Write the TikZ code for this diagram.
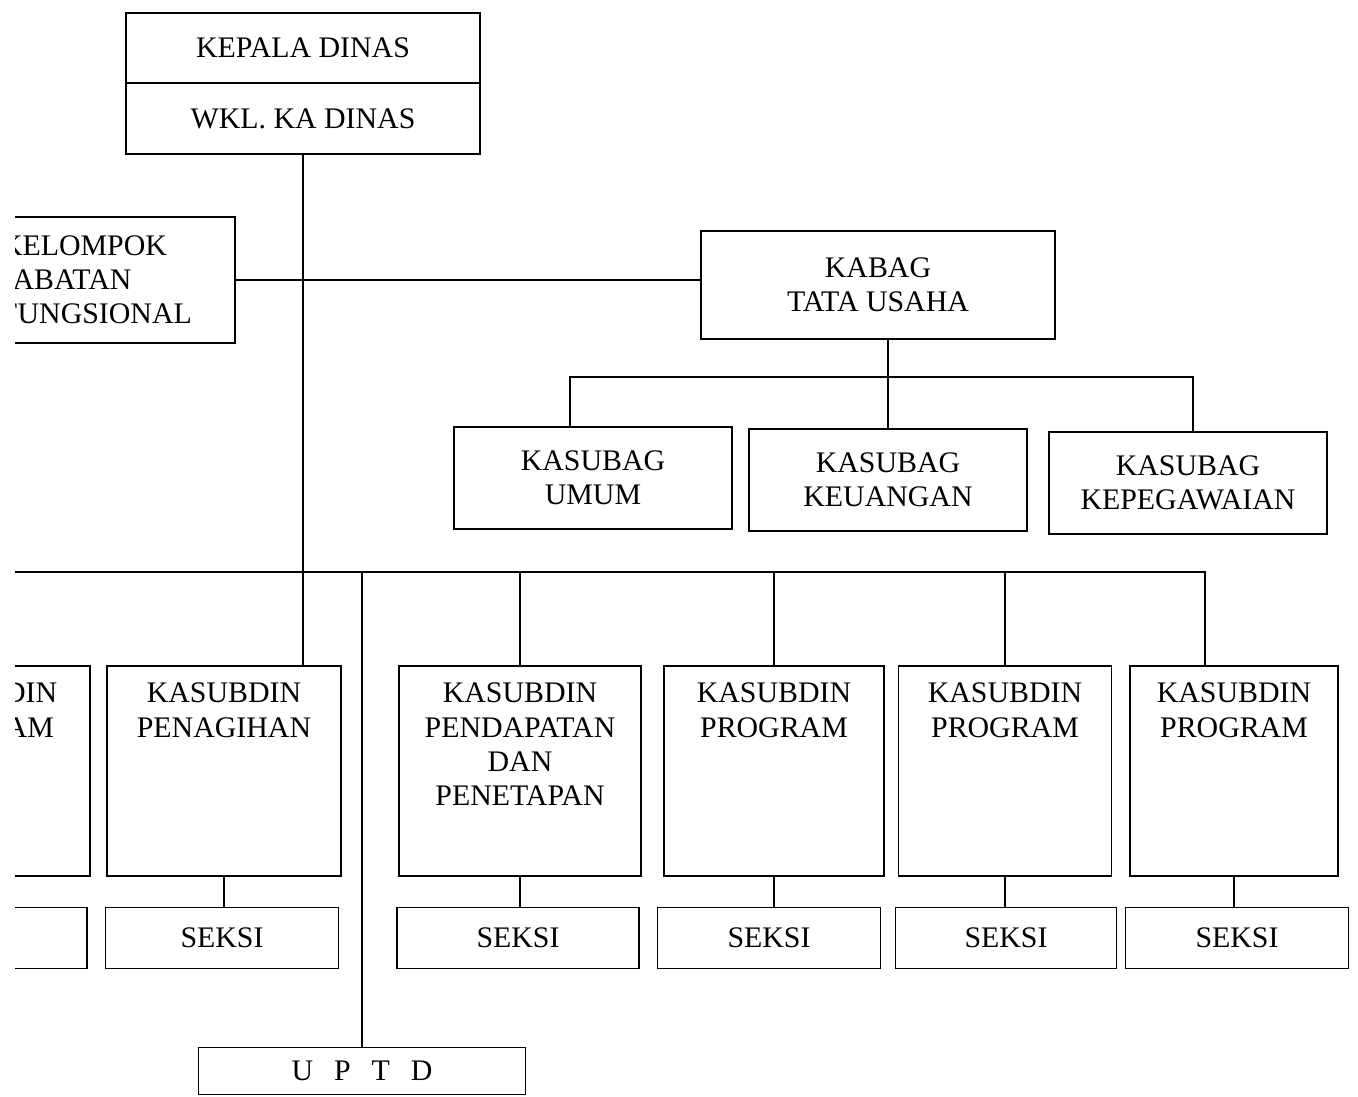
\documentclass[tikz,border=0pt]{standalone}
\usepackage{fontspec}
\setmainfont{Liberation Serif}
\usetikzlibrary{positioning}
\newcommand\toplines[1]{\begin{tabular}[t]{@{}c@{}}#1\end{tabular}}
\tikzset{
    box/.style ={draw, align=center, inner sep=0pt, font=\fontsize{17}{19.5}\selectfont},
    sub/.style ={box, anchor=north, inner ysep=0.34cm, text height=0.4cm, text depth=3.12cm},
    bag/.style ={box, minimum width=5.56cm, minimum height=2.04cm},
    seksi/.style = {box, minimum height=1.22cm, node contents={SEKSI}}
}

\begin{document}
\begin{tikzpicture}[x=0.02cm, y=-0.02cm, line width=1pt]
    \useasboundingbox (0,0) rectangle (1358,1097);
    \clip (15,0) rectangle (1358,1097);

    \node (kd) at (303,48) [box, minimum width=7.08cm, minimum height=1.4cm] {KEPALA DINAS};
    \node (wk) at (303,118.5) [box, minimum width=7.08cm, minimum height=1.42cm] {WKL. KA DINAS};
    \node (kjf) at (102.5,280) [box, align=left, inner xsep=0.62cm, text width=4.06cm, minimum height=2.52cm] {KELOMPOK\\JABATAN\\FUNGSIONAL};
    \node (kb) at (878,285) [box, minimum width=7.08cm, minimum height=2.16cm] {KABAG\\TATA USAHA};

    \node (su) at (593,478) [bag] {KASUBAG\\UMUM};
		\node (sk) at (888,480) [bag] {KASUBAG\\KEUANGAN};
		\node (sp) at (1188,483) [bag] {KASUBAG\\KEPEGAWAIAN};

    \node (sd0) at (-20,665) [sub, minimum width=4.4cm] {\toplines{KASUBDIN\\PROGRAM}};
    \node (sd1) at (224,665) [sub, minimum width=4.68cm] {\toplines{KASUBDIN\\PENAGIHAN}};
		\node (sd2) at (520,665) [sub, minimum width=4.84cm] {\toplines{KASUBDIN\\PENDAPATAN\\DAN\\PENETAPAN}};
		\node (sd3) at (774,665) [sub, minimum width=4.4cm] {\toplines{KASUBDIN\\PROGRAM}};
		\node (sd4) at (1005,665) [sub, minimum width=4.26cm] {\toplines{KASUBDIN\\PROGRAM}};
		\node (sd5) at (1234,665) [sub, minimum width=4.16cm] {\toplines{KASUBDIN\\PROGRAM}};

    \node (se0) at (-33,938) [seksi, minimum width=4.8cm];
    \node (se1) at (222,938) [seksi, minimum width=4.66cm];
		\node (se2) at (518,938) [seksi, minimum width=4.84cm];
		\node (se3) at (769,938) [seksi, minimum width=4.46cm];
		\node (se4) at (1006,938) [seksi, minimum width=4.42cm];
		\node (se5) at (1237,938) [seksi, minimum width=4.46cm];

    \node (ut) at (362,1071) [box, minimum width=6.54cm, minimum height=0.94cm] {U\hspace{0.7em}P\hspace{0.7em}T\hspace{0.7em}D};

    \coordinate (tu) at (888,377);
    \coordinate (bus) at (303,572);

    \draw (wk.south) -- (wk.south |- sd1.north);
    \draw (kjf.east) -- (kjf.east -| kb.west);
    \draw (sk.north) -- (sk.north |- kb.south);
    \draw ([xshift=-0.46cm]su.north) |- (tu) -| ([xshift=0.1cm]sp.north);

    \draw (sd0.north) |- (bus) -| ([xshift=-0.58cm]sd5.north);
    \foreach \n in {sd2,sd3,sd4,ut}
        \draw (\n.north) -- (\n.north |- bus);
    \foreach \i in {0,...,5}
        \draw (sd\i.south) -- (sd\i.south |- se\i.north);
\end{tikzpicture}
\end{document}
